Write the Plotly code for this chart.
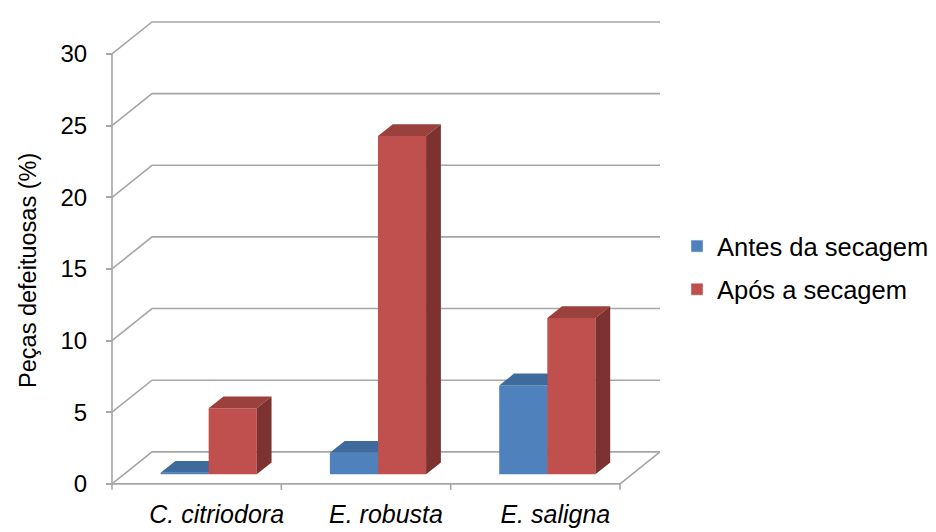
import plotly.graph_objects as go

# Data
categories = ["C. citriodora", "E. robusta", "E. saligna"]
series_names = ["Antes da secagem", "Após a secagem"]
antes = [0.1, 1.5, 6.2]
apos = [4.6, 23.6, 10.9]
y_ticks = [0, 5, 10, 15, 20, 25, 30]

# Oblique 3D geometry (in axis units)
DX = 0.2362   # full depth, horizontal (category units)
DV = 2.233    # full depth, vertical (value units)
F0 = 0.30     # depth fraction of the bar front plane
FD = 0.37     # depth fraction of the bar thickness
BAR_W = 0.284
GRID = "#a6a6a6"

fig = go.Figure()

def seg(xs, ys):
    fig.add_trace(go.Scatter(x=xs, y=ys, mode="lines",
                             line=dict(color=GRID, width=1.6),
                             showlegend=False, hoverinfo="skip"))

n = len(categories)
# walls and floor
gx, gy = [], []
for v in y_ticks:
    gx += [0, DX, n + DX, None]
    gy += [v, v + DV, v + DV, None]
gx += [0, 0, None, 0, n, n + DX, None]
gy += [0, y_ticks[-1], None, 0, 0, DV, None]
# category tick marks under the front floor edge
for i in range(n + 1):
    gx += [i, i, None]
    gy += [0, -0.42, None]
seg(gx, gy)

# 3D bars: front, top and side faces built from the values
base = F0 * DV
dxb, dvb = FD * DX, FD * DV
colors = [
    ("#4f81bd", "#3f6a9e", "#365b89"),
    ("#c0504d", "#9a403d", "#7c3230"),
]
for s, (vals, (cf, ct, cs)) in enumerate(zip([antes, apos], colors)):
    fx, fy, tx, ty, sx, sy = [], [], [], [], [], []
    for i, v in enumerate(vals):
        c = i + 0.5 + F0 * DX
        xl = c - BAR_W + s * BAR_W
        xr = xl + BAR_W
        t = base + v
        fx += [xl, xr, xr, xl, xl, None]
        fy += [base, base, t, t, base, None]
        tx += [xl, xr, xr + dxb, xl + dxb, xl, None]
        ty += [t, t, t + dvb, t + dvb, t, None]
        sx += [xr, xr + dxb, xr + dxb, xr, xr, None]
        sy += [base, base + dvb, t + dvb, t, base, None]
    for xs, ys, col in [(fx, fy, cf), (tx, ty, ct), (sx, sy, cs)]:
        fig.add_trace(go.Scatter(x=xs, y=ys, mode="none", fill="toself",
                                 fillcolor=col, showlegend=False,
                                 hoverinfo="skip"))

# legend entries
for name, (cf, _, _) in zip(series_names, colors):
    fig.add_trace(go.Bar(x=[None], y=[None], name=name, marker_color=cf,
                         legendgroup=name))

FONT = "Liberation Sans, Arial, sans-serif"
L, R, T, B = 107, 274, 18, 41
plot_w = 936 - L - R
plot_h = 532 - T - B
x0 = -5 / 169.33

fig.update_layout(
    width=936, height=532,
    margin=dict(l=L, r=R, t=T, b=B, autoexpand=False),
    paper_bgcolor="white", plot_bgcolor="white",
    font=dict(family=FONT, color="black", size=24),
    hovermode=False,
    xaxis=dict(range=[x0, x0 + plot_w / 169.33], showgrid=False,
               zeroline=False, showline=False, ticks="", automargin=False,
               tickvals=[i + 0.5 + DX / 2 for i in range(n)],
               ticktext=[f"<i>{c}</i>" for c in categories],
               tickfont=dict(size=25), ticklabelstandoff=6),
    yaxis=dict(range=[-0.5, 32.51], showgrid=False, zeroline=False,
               showline=False, tickvals=y_ticks, ticks="outside",
               ticklen=6, tickwidth=1.6, tickcolor=GRID, automargin=False,
               anchor="free", position=5 / plot_w,
               tickfont=dict(size=24), ticklabelstandoff=14),
    legend=dict(x=(677 - L) / plot_w, xanchor="left",
                y=(491 - 223) / plot_h, yanchor="top",
                font=dict(size=25.5), traceorder="grouped",
                tracegroupgap=7, bgcolor="rgba(0,0,0,0)"),
    annotations=[dict(text="Peças defeituosas (%)", textangle=-90,
                      xref="paper", yref="y", x=(28 - L) / plot_w,
                      y=14.86, xanchor="center", yanchor="middle",
                      showarrow=False, font=dict(size=23.5))],
)

fig.write_html("out.html")
